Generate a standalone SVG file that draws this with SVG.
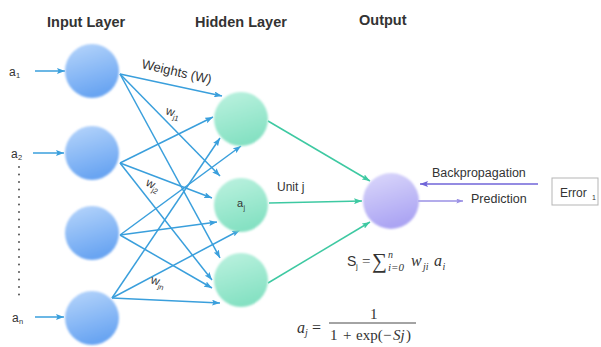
<svg xmlns="http://www.w3.org/2000/svg" width="601" height="347" viewBox="0 0 601 347">
<defs>
<style>
.t{font-family:"Liberation Sans",Arial,sans-serif;fill:#333}
.b{font-weight:bold;font-size:14.5px}
.m{font-family:"Liberation Serif","Times New Roman",serif;fill:#333}
.i{font-style:italic}
.bl{stroke:#3a9fdc;stroke-width:1.5;fill:none;marker-end:url(#ab)}
.gr{stroke:#3ec9a2;stroke-width:1.5;fill:none;marker-end:url(#ag)}
</style>
<linearGradient id="gb" x1="0" y1="0" x2="0.3" y2="1"><stop offset="0" stop-color="#b8d6fb"/><stop offset="1" stop-color="#6aa5f2"/></linearGradient>
<linearGradient id="gg" x1="0" y1="0" x2="0.3" y2="1"><stop offset="0" stop-color="#bdf2e0"/><stop offset="1" stop-color="#86e1c3"/></linearGradient>
<linearGradient id="gp" x1="0" y1="0" x2="0.3" y2="1"><stop offset="0" stop-color="#dcd9fb"/><stop offset="1" stop-color="#aca5f3"/></linearGradient>
<filter id="soft" x="-20%" y="-20%" width="140%" height="140%"><feGaussianBlur stdDeviation="0.8"/></filter>
<marker id="ab" viewBox="0 0 8 6" refX="8" refY="3" markerWidth="8" markerHeight="6" markerUnits="userSpaceOnUse" orient="auto"><path d="M0,0 L8,3 L0,6 L1.5,3 z" fill="#3a9fdc"/></marker>
<marker id="ag" viewBox="0 0 8 6" refX="8" refY="3" markerWidth="8" markerHeight="6" markerUnits="userSpaceOnUse" orient="auto"><path d="M0,0 L8,3 L0,6 L1.5,3 z" fill="#3ec9a2"/></marker>
<marker id="ap" viewBox="0 0 8 6" refX="8" refY="3" markerWidth="8" markerHeight="6" markerUnits="userSpaceOnUse" orient="auto"><path d="M0,0 L8,3 L0,6 L1.5,3 z" fill="#7065d8"/></marker>
<marker id="ap2" viewBox="0 0 8 6" refX="8" refY="3" markerWidth="7" markerHeight="5" markerUnits="userSpaceOnUse" orient="auto"><path d="M0,0 L8,3 L0,6 L1.5,3 z" fill="#9a90e4"/></marker>
</defs>
<rect width="601" height="347" fill="#fff"/>

<g id="titles">
<text class="t b" x="47" y="27">Input Layer</text>
<text class="t b" x="195" y="27">Hidden Layer</text>
<text class="t b" x="359" y="25">Output</text>
</g>

<g id="connectors">
<line class="bl" x1="35" y1="71" x2="65" y2="71"/>
<line class="bl" x1="33" y1="153" x2="64" y2="153"/>
<line class="bl" x1="35" y1="317" x2="64" y2="317"/>
<line class="bl" x1="120" y1="74" x2="222" y2="96"/>
<line class="bl" x1="120" y1="74" x2="220" y2="176"/>
<line class="bl" x1="120" y1="74" x2="220" y2="258"/>
<line class="bl" x1="120" y1="163" x2="213" y2="117"/>
<line class="bl" x1="120" y1="163" x2="212" y2="198"/>
<line class="bl" x1="120" y1="163" x2="212" y2="280"/>
<line class="bl" x1="120" y1="235" x2="241" y2="146"/>
<line class="bl" x1="120" y1="235" x2="217" y2="222"/>
<line class="bl" x1="120" y1="235" x2="212" y2="288"/>
<line class="bl" x1="112" y1="298" x2="220" y2="138"/>
<line class="bl" x1="112" y1="298" x2="240" y2="230"/>
<line class="bl" x1="112" y1="298" x2="220" y2="303"/>
<line class="gr" x1="268" y1="121" x2="370" y2="181"/>
<line class="gr" x1="269" y1="203" x2="362" y2="201"/>
<line class="gr" x1="268" y1="283" x2="370" y2="222"/>
<line x1="538" y1="184" x2="420" y2="184" stroke="#7065d8" stroke-width="1.5" marker-end="url(#ap)"/>
<line x1="418" y1="201" x2="463" y2="201" stroke="#9a90e4" stroke-width="1.3" marker-end="url(#ap2)"/>
<line x1="19" y1="167" x2="19" y2="302" stroke="#444" stroke-width="1.8" stroke-linecap="round" stroke-dasharray="0 7.5"/>
</g>

<g id="input1"><circle cx="92" cy="71" r="27" fill="url(#gb)" filter="url(#soft)"/></g>
<g id="input2"><circle cx="92" cy="153" r="27" fill="url(#gb)" filter="url(#soft)"/></g>
<g id="input3"><circle cx="92" cy="233" r="27" fill="url(#gb)" filter="url(#soft)"/></g>
<g id="input4"><circle cx="92" cy="318" r="27" fill="url(#gb)" filter="url(#soft)"/></g>
<g id="hidden1"><circle cx="241" cy="119" r="27" fill="url(#gg)" filter="url(#soft)"/></g>
<g id="hidden2"><circle cx="241" cy="205" r="27" fill="url(#gg)" filter="url(#soft)"/>
<text class="t" x="237" y="207" font-size="11">a</text><text class="t" x="243.5" y="210" font-size="7">j</text></g>
<g id="hidden3"><circle cx="241" cy="280" r="27" fill="url(#gg)" filter="url(#soft)"/></g>
<g id="output"><circle cx="391" cy="201" r="28" fill="url(#gp)" filter="url(#soft)"/></g>
<g id="error"><rect x="552" y="178" width="46" height="27" fill="#fff" stroke="#b5b5b5" stroke-width="1"/>
<text class="t" x="560" y="197" font-size="12">Error</text><text class="t" x="592" y="200" font-size="7">1</text></g>

<g id="labels">
<text class="t" x="9" y="76" font-size="12">a</text><text class="t" x="16" y="78" font-size="7.5">1</text>
<text class="t" x="11" y="158" font-size="12">a</text><text class="t" x="18" y="160" font-size="7.5">2</text>
<text class="t" x="12" y="322" font-size="12">a</text><text class="t" x="19" y="324" font-size="7.5">n</text>
<text class="t" font-size="13" transform="translate(141,68) rotate(13)">Weights (W)</text>
<g transform="translate(165,114) rotate(18)"><text class="t" x="0" y="0" font-size="12">w</text><text class="t" x="8.5" y="3" font-size="7.5">j1</text></g>
<g transform="translate(145,185) rotate(28)"><text class="t" x="0" y="0" font-size="12">w</text><text class="t" x="8.5" y="3" font-size="7.5">j2</text></g>
<g transform="translate(150,283) rotate(18)"><text class="t" x="0" y="0" font-size="12">w</text><text class="t" x="8.5" y="3" font-size="7.5">jn</text></g>
<text class="t" x="277" y="191" font-size="12">Unit j</text>
<text class="t" x="432" y="177" font-size="12.5">Backpropagation</text>
<text class="t" x="471" y="203" font-size="12.5">Prediction</text>
</g>

<g id="formula1">
<text class="t" x="347" y="266" font-size="14">S</text>
<text class="t" x="356" y="269" font-size="8">j</text>
<text class="m" x="362" y="266" font-size="15">=</text>
<text class="m" x="372" y="268" font-size="21">∑</text>
<text class="m i" x="388" y="258" font-size="10">n</text>
<text class="m i" x="388" y="271" font-size="11">i=0</text>
<text class="m i" x="411" y="266" font-size="16">w</text>
<text class="m i" x="423" y="270" font-size="10">ji</text>
<text class="m i" x="434" y="266" font-size="16">a</text>
<text class="m i" x="442.5" y="270" font-size="10">i</text>
</g>

<g id="formula2">
<text class="m i" x="297" y="333" font-size="16">a</text>
<text class="m i" x="305" y="336" font-size="10">j</text>
<text class="m" x="312" y="333" font-size="16">=</text>
<line x1="329" y1="323" x2="416" y2="323" stroke="#333" stroke-width="0.9"/>
<text class="m" x="370" y="319" font-size="15">1</text>
<text class="m" x="330" y="340" font-size="15">1</text>
<text class="m" x="343" y="340" font-size="15">+</text>
<text class="m" x="356" y="340" font-size="15">exp(</text>
<text class="m" x="383" y="340" font-size="15">−</text>
<text class="m i" x="393" y="340" font-size="15">Sj</text>
<text class="m" x="406" y="340" font-size="15">)</text>
</g>
</svg>
